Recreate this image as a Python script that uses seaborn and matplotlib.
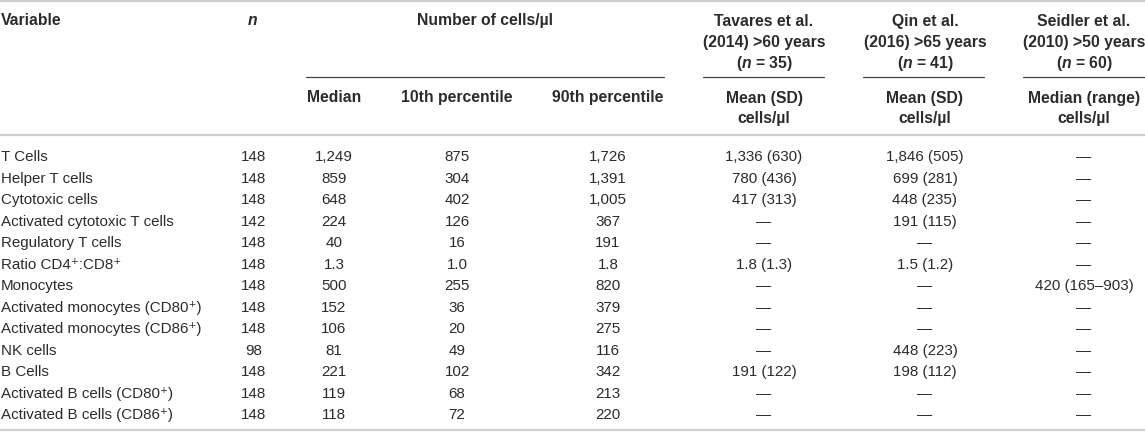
import seaborn as sns
from matplotlib import pyplot as plt

sns.set_theme(style='white')
plt.rcParams['font.family'] = ['Liberation Sans', 'DejaVu Sans']
plt.rcParams['mathtext.fontset'] = 'custom'
plt.rcParams['mathtext.it'] = 'Liberation Sans:italic:bold'
plt.rcParams['mathtext.rm'] = 'Liberation Sans:bold'

variables = ['T Cells', 'Helper T cells', 'Cytotoxic cells', 'Activated cytotoxic T cells',
             'Regulatory T cells', 'Ratio CD4\u207a:CD8\u207a', 'Monocytes',
             'Activated monocytes (CD80\u207a)', 'Activated monocytes (CD86\u207a)', 'NK cells',
             'B Cells', 'Activated B cells (CD80\u207a)', 'Activated B cells (CD86\u207a)']
n_values = ['148', '148', '148', '142', '148', '148', '148', '148', '148', '98', '148', '148', '148']
median = ['1,249', '859', '648', '224', '40', '1.3', '500', '152', '106', '81', '221', '119', '118']
p10 = ['875', '304', '402', '126', '16', '1.0', '255', '36', '20', '49', '102', '68', '72']
p90 = ['1,726', '1,391', '1,005', '367', '191', '1.8', '820', '379', '275', '116', '342', '213', '220']
tavares = ['1,336 (630)', '780 (436)', '417 (313)', '\u2014', '\u2014', '1.8 (1.3)', '\u2014',
           '\u2014', '\u2014', '\u2014', '191 (122)', '\u2014', '\u2014']
qin = ['1,846 (505)', '699 (281)', '448 (235)', '191 (115)', '\u2014', '1.5 (1.2)', '\u2014',
       '\u2014', '\u2014', '448 (223)', '198 (112)', '\u2014', '\u2014']
seidler = ['\u2014'] * 6 + ['420 (165\u2013903)'] + ['\u2014'] * 6

study_heads = [['Tavares et al.', '(2014) >60 years', '($n$ = 35)'],
               ['Qin et al.', '(2016) >65 years', '($n$ = 41)'],
               ['Seidler et al.', '(2010) >50 years', '($n$ = 60)']]
study_subheads = [['Mean (SD)', 'cells/\u00b5l'], ['Mean (SD)', 'cells/\u00b5l'],
                  ['Median (range)', 'cells/\u00b5l']]
cell_subheads = ['Median', '10th percentile', '90th percentile']

# layout (pixel-like coordinates)
col_x = {'n': 254, 'med': 334, 'p10': 457, 'p90': 608}
study_x = [764, 925, 1084]
study_span = [(703, 824), (863, 984), (1023, 1145)]
row0, row_h = 156, 21.5
txt = '#2b2b2b'
rule = '#cfcfcf'
fs = 10.9
fs_head = 11.3

fig = plt.figure(figsize=(11.45, 4.32), dpi=100)
ax = fig.add_axes([0, 0, 1, 1])
ax.set_xlim(0, 1145)
ax.set_ylim(432, 0)
ax.axis('off')


def put(x, y, s, ha='center', bold=False):
    ax.text(x, y + 5.3, s, ha=ha, va='baseline', fontsize=fs_head if bold else fs, color=txt,
            fontweight='bold' if bold else 'normal')


# rules
for y in (1, 135, 430):
    ax.plot([0, 1145], [y, y], color=rule, lw=1.6, solid_capstyle='butt')
ax.plot([306, 664], [77, 77], color='#444444', lw=0.9)
for a, b in study_span:
    ax.plot([a, b], [77, 77], color='#444444', lw=0.9)

# header
put(1, 20, 'Variable', ha='left', bold=True)
ax.text(col_x['n'] - 2, 25.3, '$n$', ha='center', va='baseline', fontsize=fs_head, color=txt)
put(485, 20, 'Number of cells/\u00b5l', bold=True)
for x, s in zip([col_x['med'], col_x['p10'], col_x['p90']], cell_subheads):
    put(x, 97, s, bold=True)
for x, lines, subs in zip(study_x, study_heads, study_subheads):
    for k, s in enumerate(lines):
        put(x, 20.5 + k * 21.3, s, bold=True)
    put(x, 98, subs[0], bold=True)
    put(x, 118, subs[1], bold=True)

# body
for i in range(len(variables)):
    y = row0 + i * row_h
    put(1, y, variables[i], ha='left')
    put(col_x['n'], y, n_values[i])
    put(col_x['med'], y, median[i])
    put(col_x['p10'], y, p10[i])
    put(col_x['p90'], y, p90[i])
    put(study_x[0], y, tavares[i])
    put(study_x[1], y, qin[i])
    put(study_x[2], y, seidler[i])

plt.savefig('out.png', dpi=100)
